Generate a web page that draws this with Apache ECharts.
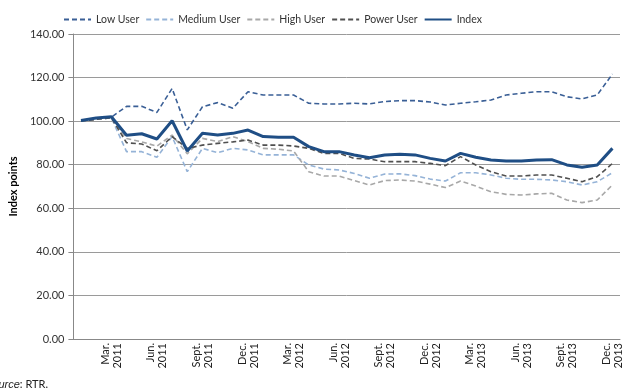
<!DOCTYPE html>
<html>
<head>
<meta charset="utf-8">
<script src="https://cdn.jsdelivr.net/npm/echarts@6/dist/echarts.min.js"></script>
<style>
  html, body { margin: 0; padding: 0; background: #fff; }
  #chart { width: 640px; height: 392px; }
</style>
</head>
<body>
<div id="chart"></div>
<script>
// months Jan 2011 .. Dec 2013, only every 3rd one gets a label
const monthNames = ['Jan.', 'Feb.', 'Mar.', 'Apr.', 'May', 'Jun.', 'Jul.', 'Aug.', 'Sept.', 'Oct.', 'Nov.', 'Dec.']
const years = [2011, 2012, 2013]
const categories = []
years.forEach(y => monthNames.forEach(m => categories.push(m + '\n' + y)))

const lowUser = [100.3, 101, 101.8, 106.8, 106.8, 104, 115, 96, 106.6, 108.5, 105.9, 113.5,
  112, 112, 112, 108.2, 107.9, 107.9, 108.2, 107.9, 109, 109.4, 109.4, 108.8,
  107.4, 108.2, 108.9, 109.7, 112, 112.8, 113.5, 113.5, 111.2, 110.2, 112, 121.6]
const mediumUser = [100, 100.8, 101.5, 86, 86, 83.4, 92.9, 76.8, 87.5, 85.5, 87.5, 86.8,
  84.5, 84.5, 84.5, 79.9, 78, 77.6, 76, 73.8, 75.7, 75.8, 75, 73.4,
  72.5, 76.3, 76.3, 75.3, 73.8, 73.3, 73.3, 73, 72.2, 70.7, 72.2, 76.3]
const highUser = [100, 100.8, 101.5, 92, 90.5, 88.5, 93.6, 85, 92.1, 90.6, 92.9, 90.6,
  87.5, 87.1, 86.3, 76.8, 74.8, 74.8, 72.7, 70.7, 72.7, 73, 72.5, 71.1,
  69.5, 72.5, 70.2, 67.6, 66.4, 66.1, 66.6, 66.9, 63.8, 62.6, 63.8, 70.7]
const powerUser = [100, 100.8, 101.5, 90.1, 89.5, 86.4, 92.9, 87.5, 89, 89.8, 90.5, 91.3,
  89, 89, 88.6, 87.5, 85.2, 85.2, 82.9, 82.6, 81.4, 81.4, 81.4, 80.6,
  79.6, 83.7, 79.9, 76.8, 74.8, 74.8, 75.3, 75.3, 73.8, 72.2, 74.5, 80.6]
const indexPts = [100.3, 101.4, 102, 93.5, 94.2, 91.8, 100.2, 86.3, 94.4, 93.6, 94.4, 95.9,
  92.9, 92.6, 92.6, 88.3, 86, 86, 84.5, 83.2, 84.5, 84.8, 84.5, 82.9,
  81.7, 85.2, 83.4, 82.2, 81.7, 81.7, 82.2, 82.3, 79.9, 78.8, 79.9, 87.5]

const fontName = 'Lato, "Liberation Sans", sans-serif'

function dashed (name, data, color) {
  return {
    name: name,
    type: 'line',
    data: data,
    symbol: 'none',
    lineStyle: { color: color, width: 1.6, type: [5, 3] },
    itemStyle: { color: color }
  }
}

var myChart = echarts.init(document.getElementById('chart'))

var option = {
  animation: false,
  textStyle: { fontFamily: fontName },
  legend: {
    top: 9,
    left: 58,
    itemWidth: 27,
    itemHeight: 10,
    itemGap: 6,
    itemStyle: { opacity: 0 },
    textStyle: { fontSize: 10.5, color: '#333', fontFamily: fontName },
    data: ['Low User', 'Medium User', 'High User', 'Power User', 'Index']
  },
  grid: { left: 64, right: 20, top: 34, bottom: 53 },
  xAxis: {
    type: 'category',
    data: categories,
    boundaryGap: true,
    axisLine: { lineStyle: { color: '#888' } },
    axisTick: { interval: 0, length: 5, lineStyle: { color: '#888' } },
    axisLabel: {
      interval: (idx) => idx % 3 === 2,
      rotate: 90,
      fontSize: 11,
      lineHeight: 12,
      color: '#222',
      margin: 4
    }
  },
  yAxis: {
    type: 'value',
    min: 0,
    max: 140,
    interval: 20,
    name: 'Index points',
    nameLocation: 'middle',
    nameGap: 46,
    nameTextStyle: { fontSize: 11, fontWeight: 'bold', color: '#000' },
    axisLine: { show: true, lineStyle: { color: '#888' } },
    axisTick: { show: true, length: 5, lineStyle: { color: '#888' } },
    axisLabel: {
      fontSize: 11,
      color: '#333',
      margin: 9,
      formatter: (v) => v.toFixed(2)
    },
    splitLine: { lineStyle: { color: '#9a9a9a' } }
  },
  series: [
    dashed('Low User', lowUser, '#3a5f96'),
    dashed('Medium User', mediumUser, '#95b3d7'),
    dashed('High User', highUser, '#a8a8a8'),
    dashed('Power User', powerUser, '#505050'),
    {
      name: 'Index',
      type: 'line',
      data: indexPts,
      symbol: 'none',
      lineStyle: { color: '#1f4e85', width: 3 },
      itemStyle: { color: '#1f4e85' }
    }
  ],
  graphic: [
    {
      type: 'text',
      left: -15,
      top: 379,
      style: {
        text: '{i|Source}: RTR.',
        font: '11px ' + fontName,
        fill: '#222',
        rich: { i: { fontStyle: 'italic', fontSize: 11, fill: '#222' } }
      }
    }
  ]
}

myChart.setOption(option)
</script>
</body>
</html>
